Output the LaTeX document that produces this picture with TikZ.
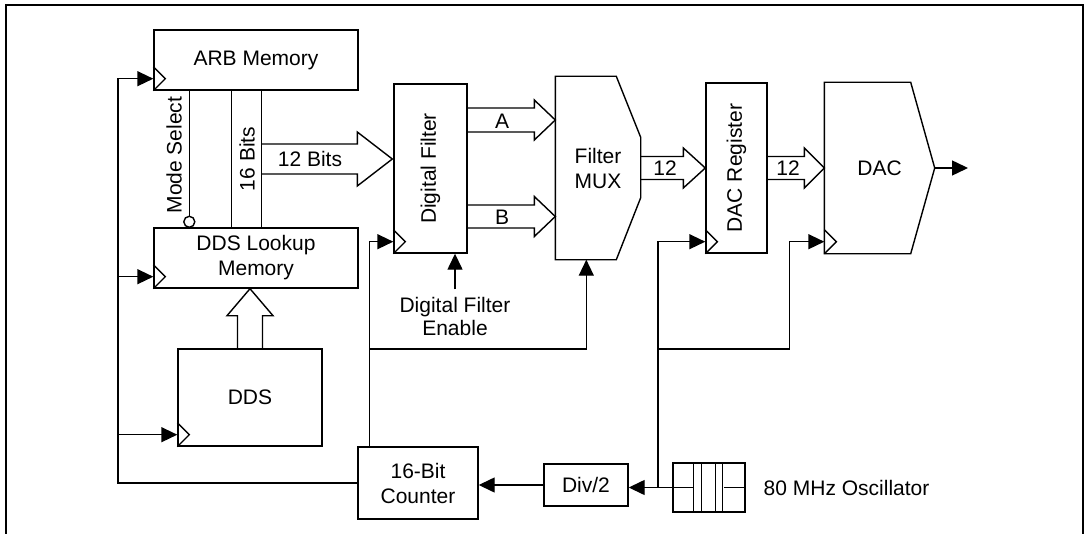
\documentclass[tikz,border=0pt]{standalone}
\usepackage{fontspec}
\setmainfont{Liberation Sans}
\usepackage{graphicx}
\usetikzlibrary{arrows.meta,calc}
% wide hollow bus arrows: start, tip, half shaft, half head, head length
\newcommand\busr[5]{\draw ($(#1)+(0,-#3)$) -- ($(#2)+(-#5,-#3)$) -- ($(#2)+(-#5,-#4)$) -- (#2) -- ($(#2)+(-#5,#4)$) -- ($(#2)+(-#5,#3)$) -- ($(#1)+(0,#3)$);}
\newcommand\busu[5]{\draw ($(#1)+(-#3,0)$) -- ($(#2)+(-#3,#5)$) -- ($(#2)+(-#4,#5)$) -- (#2) -- ($(#2)+(#4,#5)$) -- ($(#2)+(#3,#5)$) -- ($(#1)+(#3,0)$);}
\tikzset{
  box/.style={draw, inner sep=0pt, align=center},
  ghost/.style={inner sep=0pt, align=center},
}
\begin{document}
\begin{tikzpicture}[x=0.5pt,y=-0.5pt,>={Triangle[length=8pt,width=7.5pt]},line width=0.7pt,
  font=\fontsize{10.5}{12.5}\selectfont, line join=miter]
\useasboundingbox (0,0) rectangle (1085,534);
\draw[line width=1.3pt] (6,534) -- (6,5) -- (1083,5) -- (1083,534);
% blocks
\node[box, minimum width=102pt, minimum height=30pt] (arb) at (256,60) {ARB Memory};
\node[box, minimum width=102pt, minimum height=30pt] (ddsl) at (256,258) {DDS Lookup\\Memory};
\node[box, minimum width=72pt, minimum height=48.5pt] (dds) at (250,397.5) {DDS};
\node[box, minimum width=36.5pt, minimum height=84.5pt] (dfilt) at (430.5,168.5) {\rotatebox{90}{Digital Filter}};
\node[ghost, minimum width=42pt, minimum height=91pt] (mux) at (598,168) {Filter\\MUX};
\node[box, minimum width=30.5pt, minimum height=85pt] (dacreg) at (736.5,168) {\rotatebox{90}{DAC Register}};
\node[ghost, minimum width=54.5pt, minimum height=85pt] (dac) at (879.5,168) {DAC};
\node[box, minimum width=60pt, minimum height=36pt] (counter) at (418,483) {16-Bit\\Counter};
\node[box, minimum width=42pt, minimum height=21pt] (div) at (586,485) {Div/2};
\node[box, minimum width=36pt, minimum height=24.5pt] (osc) at (709,487.5) {};
\node[anchor=west, inner sep=0pt] (osclbl) at (763,488) {80 MHz Oscillator};
% outlines of mux and dac
\draw (mux.north west) -- ($(mux.north west)+(61,0)$) -- ($(mux.north east)+(0,61)$) -- ($(mux.south east)+(0,-62)$) -- ($(mux.south west)+(61,0)$) -- (mux.south west) -- cycle;
\draw (dac.north west) -- ($(dac.north east)+(-24,0)$) -- (dac.east) -- ($(dac.south east)+(-24,0)$) -- (dac.south west) -- cycle;
% crystal
\foreach \x in {21,29,43,50}
  \draw ($(osc.north west)+(\x,0)$) -- ($(osc.south west)+(\x,0)$);
\draw (osc.west) -- ++(21,0);
\draw (osc.east) -- ++(-22,0);
% clock inputs
\foreach \n in {arb,ddsl,dds,dfilt,dacreg,dac}{
  \coordinate (\n ck) at ($(\n.south west)+(0,-12)$);
  \draw ($(\n.south west)+(0,-24)$) -- ($(\n.south west)+(12,-12)$) -- (\n.south west);
}
% mode select and data lines
\draw ($(arb.south west)+(36,0)$) -- ($(ddsl.north west)+(36,-11)$);
\draw ($(ddsl.north west)+(36,-5.5)$) circle (5.5);
\node[rotate=90] (modelbl) at (174,155) {Mode Select};
\draw ($(arb.south west)+(78,0)$) -- ($(ddsl.north west)+(78,0)$);
\coordinate (sb) at ($(arb.south west)+(108,0)$);
\draw (sb) -- (sb |- ddsl.north);
\node[rotate=90] (bits16) at (247,159) {16 Bits};
\coordinate (tb) at ($(dfilt.west)+(-1,-9.5)$);
\busr{sb |- tb}{tb}{15}{27}{35}
\node (bits12) at (310,159) {12 Bits};
\busu{dds.north}{dds.north |- ddsl.south}{12.5}{23}{27}
% filter outputs
\coordinate (ta) at ($(mux.west)+(0,-48)$);
\coordinate (tbb) at ($(mux.west)+(0,48.5)$);
\busr{dfilt.east |- ta}{ta}{12}{20}{21}
\busr{dfilt.east |- tbb}{tbb}{11.5}{20}{21}
\node (albl) at (502,121) {A};
\node (blbl) at (502,217) {B};
\busr{mux.east}{dacreg.west}{11.5}{20}{22}
\busr{dacreg.east}{dac.west}{11.5}{20}{20}
\node (n12a) at (665,168) {12};
\node (n12b) at (788,168) {12};
\coordinate (out) at (968,168);
\draw[->] (dac.east) -- (out);
% enable
\node[align=center] (enlbl) at (455,316) {Digital Filter\\[-1pt]Enable};
\draw[->] (enlbl.north) -- (enlbl.north |- dfilt.south);
% clock distribution
\coordinate (lb) at (118,0);
\draw[->] (counter.west) -| (lb |- arbck) -- (arbck);
\draw[->] (lb |- ddslck) -- (ddslck);
\draw[->] (lb |- ddsck) -- (ddsck);
\coordinate (ct) at ($(counter.north west)+(12,0)$);
\coordinate (en) at (0,349);
\draw[->] (ct) |- (dfiltck);
\draw[->] (ct |- en) -| ($(mux.south west)+(31,0)$);
\draw[->] (div.west) -- (div.west -| counter.east);
\draw[->] (osc.west) -- (osc.west -| div.east);
\coordinate (ok) at (658,0);
\draw[->] (ok |- osc.west) |- (dacregck);
\draw[->] (ok |- en) -| ($(dacck)+(-35,0)$) -- (dacck);
\end{tikzpicture}
\end{document}
